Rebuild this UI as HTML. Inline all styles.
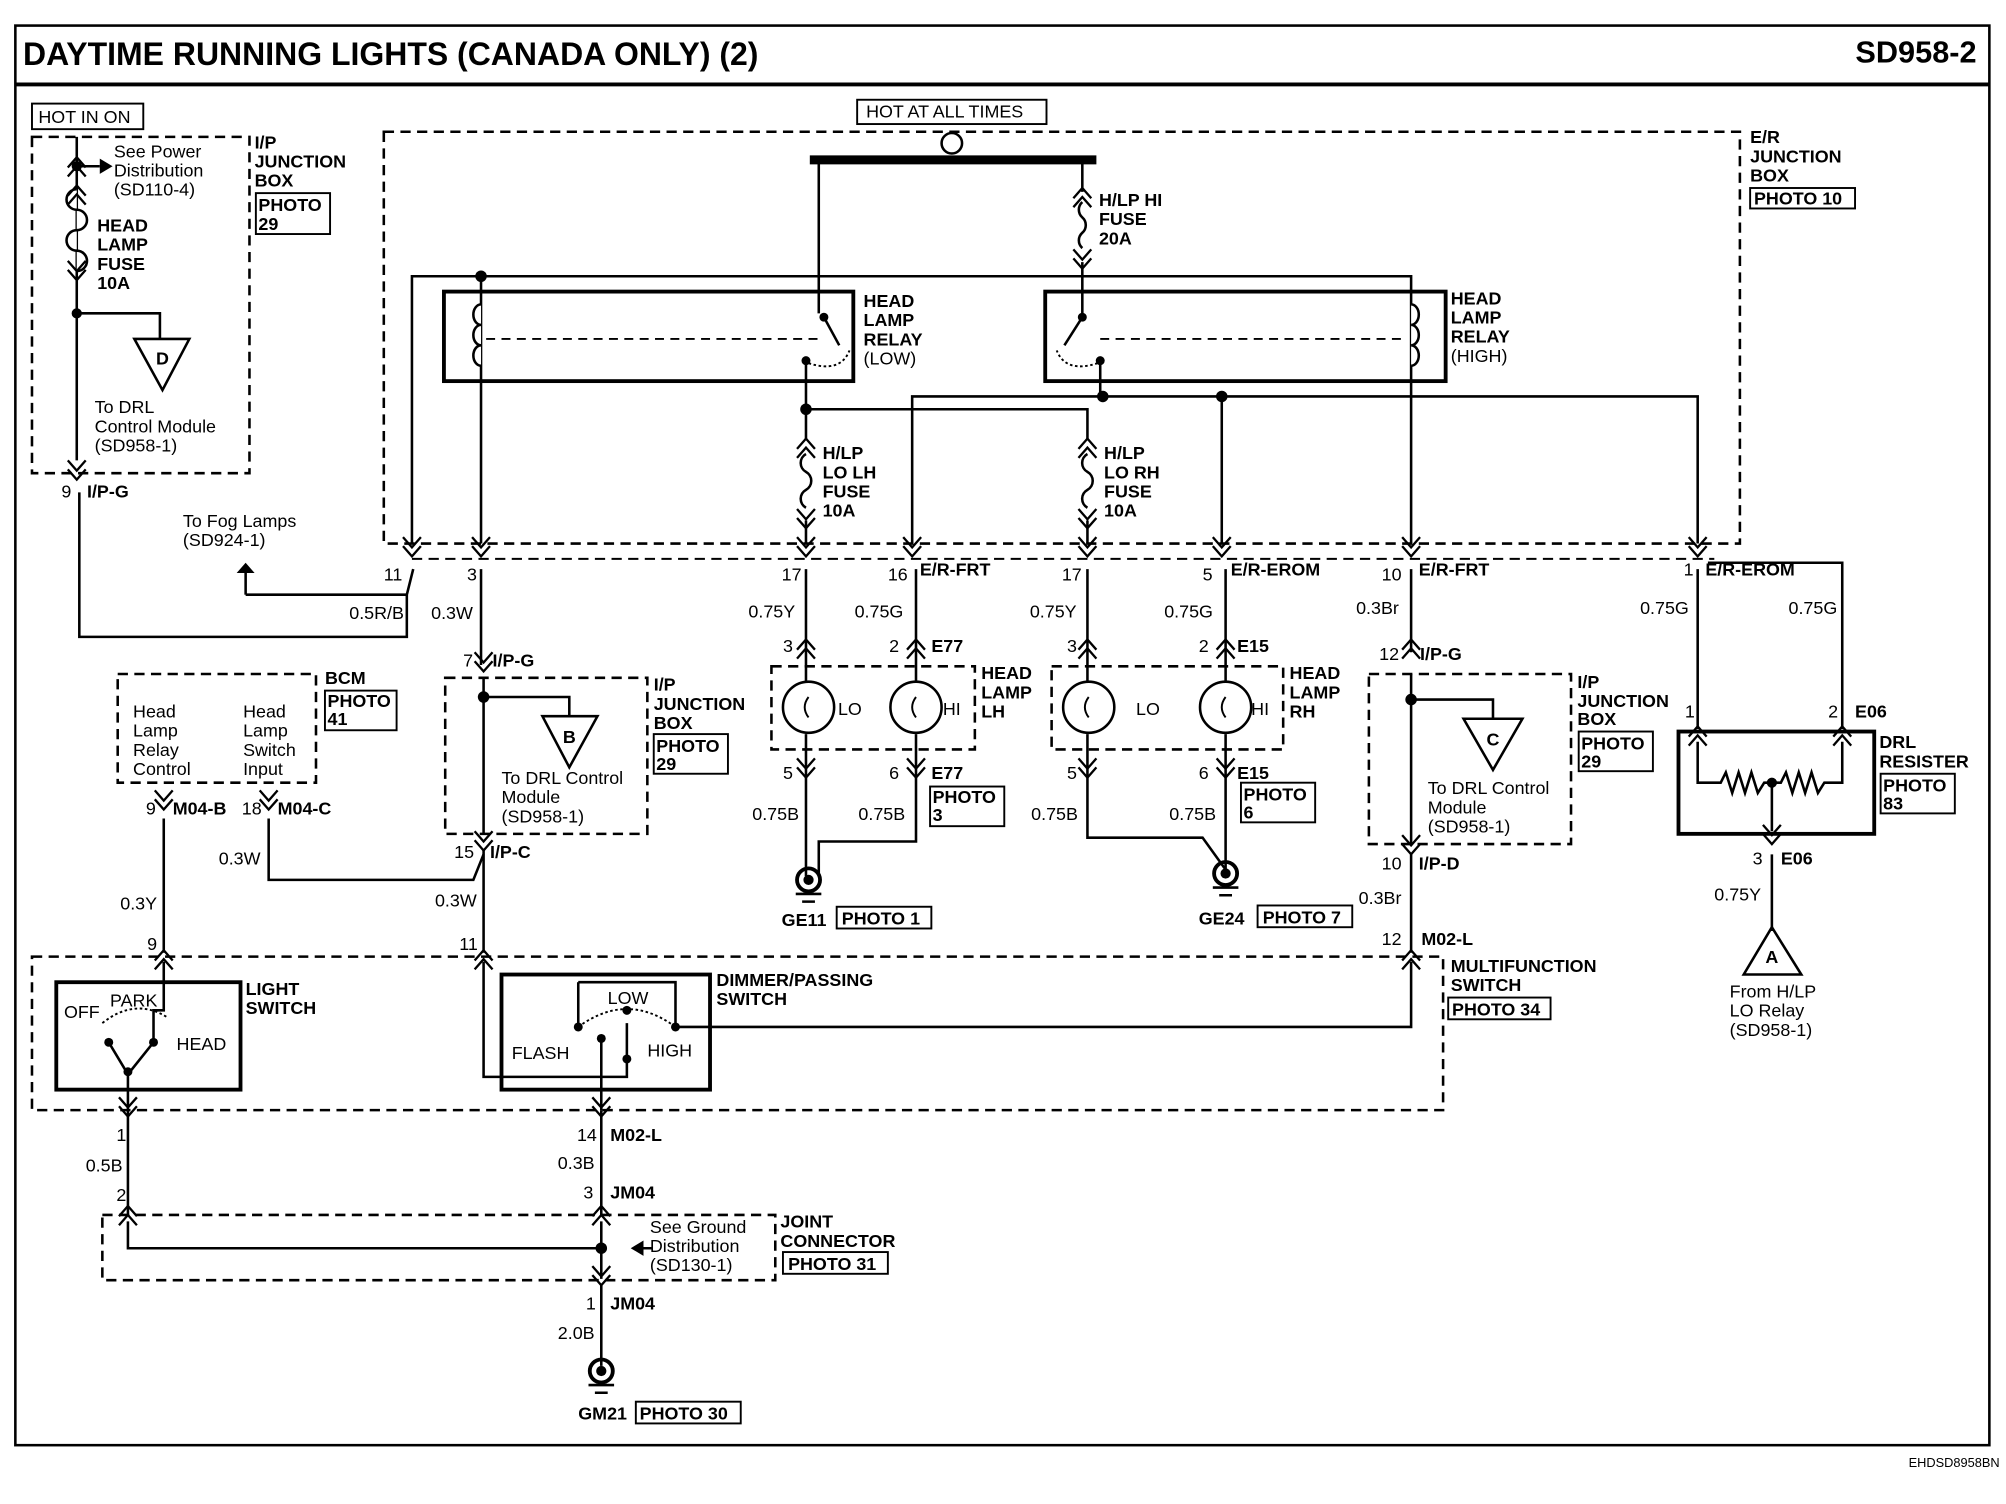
<!DOCTYPE html>
<html><head><meta charset="utf-8"><style>
html,body{margin:0;padding:0;background:#fff;}
svg{display:block;}
text{font-family:"Liberation Sans",Arial,sans-serif;fill:#000;}
.b{font-weight:bold;font-size:14px;}
.n{font-size:14px;}
</style></head><body>
<svg width="2006" height="1504" viewBox="0 0 1568 1176" preserveAspectRatio="none" xmlns="http://www.w3.org/2000/svg">
<defs>
<g id="cd"><path d="M-7,-10 L0,-2 L7,-10 M-7,-3 L0,5 L7,-3" fill="none" stroke="#000" stroke-width="1.8"/></g>
<g id="cu"><path d="M-7,10 L0,2 L7,10 M-7,3 L0,-5 L7,3" fill="none" stroke="#000" stroke-width="1.8"/></g>
</defs>
<g fill="none" stroke="#000">
<rect x="12" y="20" width="1543" height="1110" stroke-width="2"/>
<line x1="12" y1="66" x2="1555" y2="66" stroke-width="3"/>
</g>
<text x="18" y="51" style="font-weight:bold;font-size:25px">DAYTIME RUNNING LIGHTS (CANADA ONLY) (2)</text>
<text x="1545" y="49" text-anchor="end" style="font-weight:bold;font-size:24px">SD958-2</text>
<text x="1563" y="1147" text-anchor="end" style="font-size:10px">EHDSD8958BN</text>

<g fill="none" stroke="#000" stroke-width="2">
<g stroke-dasharray="8,5">
<rect x="25" y="107" width="170" height="263"/>
<rect x="300" y="103" width="1060" height="322"/>
<line x1="322" y1="437" x2="1340" y2="437" stroke-width="1.5"/>
<rect x="348" y="530" width="158" height="122"/>
<rect x="92" y="527" width="155" height="85"/>
<rect x="603" y="521" width="159" height="65"/>
<rect x="822" y="521" width="181" height="65"/>
<rect x="1070" y="527" width="158" height="133"/>
<rect x="25" y="748" width="1103" height="120"/>
<rect x="80" y="950" width="526" height="51"/>
</g>
<rect x="25" y="81" width="87" height="20" stroke-width="1.5"/>
<rect x="200" y="151" width="58" height="32" stroke-width="1.5"/>
<rect x="670" y="78" width="148" height="19" stroke-width="1.5"/>
<rect x="1368" y="147" width="82" height="16" stroke-width="1.5"/>
<rect x="254" y="540" width="56" height="31" stroke-width="1.5"/>
<rect x="511" y="574" width="58" height="31" stroke-width="1.5"/>
<rect x="727" y="615" width="58" height="31" stroke-width="1.5"/>
<rect x="970" y="612" width="58" height="31" stroke-width="1.5"/>
<rect x="1234" y="572" width="58" height="31" stroke-width="1.5"/>
<rect x="1470" y="605" width="58" height="31" stroke-width="1.5"/>
<rect x="654" y="709" width="74" height="17" stroke-width="1.5"/>
<rect x="983" y="708" width="74" height="17" stroke-width="1.5"/>
<rect x="1132" y="780" width="80" height="17" stroke-width="1.5"/>
<rect x="612" y="979" width="82" height="17" stroke-width="1.5"/>
<rect x="497" y="1096" width="82" height="17" stroke-width="1.5"/>

<path d="M60,107 V360"/>
<path d="M60,130 H78"/>
<path d="M60,245 H125 V265"/>
<path d="M62,385 V498 H318 V465 L323,445"/>
<path d="M192,465 H318"/>
<path d="M60,148 a8,8 0 0 0 0,16 a8,8 0 0 1 0,16 a8,8 0 0 0 0,16 a8,8 0 0 1 0,16" fill="#fff"/>

<line x1="633" y1="125" x2="857" y2="125" stroke-width="7"/>
<circle cx="744" cy="112" r="8" fill="#fff"/>
<path d="M640,125 V245"/>
<path d="M846,125 V150 M846,205 V245"/>
<path d="M846,158 a8,8 0 0 0 0,12 a8,8 0 0 1 0,12 a8,8 0 0 0 0,12" fill="#fff"/>

<rect x="347" y="228" width="320" height="70" stroke-width="3"/>
<rect x="817" y="228" width="313" height="70" stroke-width="3"/>
<path d="M322,425 V216 H1103 V425"/>
<path d="M376,216 V425"/>
<path d="M376,238 a6,8 0 0 0 0,16 a6,8 0 0 0 0,16 a6,8 0 0 0 0,16" fill="#fff"/>
<path d="M1103,238 a6,8 0 0 1 0,16 a6,8 0 0 1 0,16 a6,8 0 0 1 0,16" fill="#fff"/>
<path d="M380,265 H640 M860,265 H1098" stroke-dasharray="7,5" stroke-width="1.5"/>
<path d="M644,248 L656,270"/>
<path d="M630,282 V320"/>
<path d="M632,284 q25,8 32,-10" stroke-dasharray="2,2" stroke-width="1.5"/>
<path d="M846,248 L832,270"/>
<path d="M860,282 V310"/>
<path d="M858,284 q-25,8 -32,-10" stroke-dasharray="2,2" stroke-width="1.5"/>

<path d="M630,320 V343 M630,407 V425"/>
<path d="M630,355 a8,8 0 0 0 0,14 a8,8 0 0 1 0,14 a8,8 0 0 0 0,14" fill="#fff"/>
<path d="M630,320 H850 V343 M850,407 V425"/>
<path d="M850,355 a8,8 0 0 0 0,14 a8,8 0 0 1 0,14 a8,8 0 0 0 0,14" fill="#fff"/>
<path d="M713,425 V310 H1327 V425"/>
<path d="M955,310 V425"/>

<path d="M376,445 V520"/>
<path d="M378,530 V652"/>
<path d="M378,545 H445 V560"/>
<path d="M378,665 V745"/>
<path d="M210,640 V688 H370 L378,668"/>
<path d="M128,640 V745"/>
<path d="M630,445 V533 M630,574 V685"/>
<path d="M716,445 V533 M716,574 V658 H640 V685"/>
<path d="M850,445 V533 M850,574 V655 H940 L958,680"/>
<path d="M958,445 V533 M958,574 V680"/>
<path d="M1103,445 V510 M1103,527 V660 M1103,668 V745"/>
<path d="M1103,547 H1167 V562"/>
<path d="M1327,445 V570"/>
<path d="M1335,440 H1440 V570"/>
<circle cx="632" cy="553" r="20"/><circle cx="716" cy="553" r="20"/>
<circle cx="851" cy="553" r="20"/><circle cx="958" cy="553" r="20"/>
<path d="M632,545 q-6,8 0,16 M716,545 q-6,8 0,16 M851,545 q-6,8 0,16 M958,545 q-6,8 0,16" stroke-width="1.5"/>

<rect x="1312" y="572" width="153" height="80" stroke-width="3"/>
<path d="M1327,580 V612 H1345 l4,-8 l5,16 l5,-16 l5,16 l5,-16 l5,16 l5,-8 H1392 l4,-8 l5,16 l5,-16 l5,16 l5,-16 l5,16 l5,-8 H1440 V580"/>
<path d="M1385,612 V650 M1385,668 V728"/>
<path d="M1385,725 L1363,762 H1408 Z"/>

<path d="M105,265 H148 L127,305 Z"/>
<path d="M424,560 H467 L445,600 Z"/>
<path d="M1144,562 H1190 L1167,602 Z"/>

<rect x="44" y="768" width="144" height="84" stroke-width="3"/>
<rect x="392" y="762" width="163" height="90" stroke-width="3"/>
<path d="M128,752 V790 H120 V812"/>
<path d="M100,868 V840 L85,815"/>
<path d="M100,840 L120,815"/>
<path d="M80,800 q25,-20 50,-5" stroke-dasharray="2,2" stroke-width="1.5"/>
<path d="M378,752 V842 H490 V800"/>
<path d="M452,768 H528 V803"/>
<path d="M452,768 V803"/>
<path d="M452,803 q38,-28 76,0" stroke-dasharray="2,2" stroke-width="1.5"/>
<path d="M470,810 V868"/>
<path d="M528,803 H1103 V752"/>
<path d="M470,868 V950 M100,868 V950"/>
<path d="M100,955 V976 H470 M470,955 V1000 M470,1005 V1068"/>
<path d="M495,976 H510"/>
<circle cx="470" cy="1072" r="9" stroke-width="3"/>
<path d="M460,1083 H480 M465,1089 H475"/>
<circle cx="632" cy="688" r="9" stroke-width="3"/>
<path d="M622,699 H642 M627,705 H637"/>
<circle cx="958" cy="683" r="9" stroke-width="3"/>
<path d="M948,694 H968 M953,700 H963"/>
<path d="M192,465 V448"/>
</g>
<g fill="#000">
<circle cx="60" cy="130" r="4"/><circle cx="60" cy="245" r="4"/>
<path d="M78,124 L88,130 L78,136 Z"/>
<path d="M185,448 L192,440 L199,448 Z"/>
<path d="M503,970 L493,976 L503,982 Z"/>
<circle cx="376" cy="216" r="4.5"/><circle cx="644" cy="248" r="3.5"/><circle cx="630" cy="282" r="3.5"/>
<circle cx="846" cy="248" r="3.5"/><circle cx="860" cy="282" r="3.5"/>
<circle cx="630" cy="320" r="4.5"/><circle cx="862" cy="310" r="4.5"/><circle cx="955" cy="310" r="4.5"/>
<circle cx="378" cy="545" r="4.5"/><circle cx="1103" cy="547" r="4.5"/><circle cx="1385" cy="612" r="4"/>
<circle cx="470" cy="976" r="4.5"/>
<circle cx="470" cy="1072" r="4"/><circle cx="632" cy="688" r="4"/><circle cx="958" cy="683" r="4"/>
<circle cx="120" cy="815" r="3.5"/><circle cx="85" cy="815" r="3.5"/><circle cx="100" cy="838" r="3.5"/>
<circle cx="452" cy="803" r="3.5"/><circle cx="490" cy="790" r="3.5"/><circle cx="528" cy="803" r="3.5"/><circle cx="470" cy="812" r="3.5"/><circle cx="490" cy="828" r="3.5"/>
</g>
<use href="#cd" x="60" y="370"/><use href="#cu" x="60" y="128"/><use href="#cu" x="60" y="150"/><use href="#cd" x="60" y="214"/>
<use href="#cd" x="322" y="430"/><use href="#cd" x="376" y="430"/><use href="#cd" x="630" y="430"/><use href="#cd" x="713" y="430"/>
<use href="#cd" x="850" y="430"/><use href="#cd" x="955" y="430"/><use href="#cd" x="1103" y="430"/><use href="#cd" x="1327" y="430"/>
<use href="#cu" x="630" y="348"/><use href="#cd" x="630" y="408"/><use href="#cu" x="850" y="348"/><use href="#cd" x="850" y="408"/><use href="#cu" x="846" y="152"/><use href="#cd" x="846" y="205"/>
<use href="#cd" x="378" y="520"/><use href="#cd" x="378" y="660"/><use href="#cd" x="128" y="628"/><use href="#cd" x="210" y="628"/>
<use href="#cu" x="630" y="505"/><use href="#cu" x="716" y="505"/><use href="#cu" x="850" y="505"/><use href="#cu" x="958" y="505"/>
<use href="#cd" x="630" y="603"/><use href="#cd" x="716" y="603"/><use href="#cd" x="850" y="603"/><use href="#cd" x="958" y="603"/>
<use href="#cu" x="1103" y="505"/><use href="#cd" x="1103" y="663"/><use href="#cu" x="1327" y="573"/><use href="#cu" x="1440" y="573"/><use href="#cd" x="1385" y="655"/>
<use href="#cu" x="128" y="748"/><use href="#cu" x="378" y="748"/><use href="#cu" x="1103" y="748"/><use href="#cd" x="100" y="868"/><use href="#cd" x="470" y="868"/>
<use href="#cu" x="100" y="948"/><use href="#cu" x="470" y="948"/><use href="#cd" x="470" y="1000"/>

<g class="n">
<text x="30" y="96">HOT IN ON</text>
<text x="677" y="92">HOT AT ALL TIMES</text>
<text x="89" y="123">See Power</text><text x="89" y="138">Distribution</text><text x="89" y="153">(SD110-4)</text>
<text x="74" y="323">To DRL</text><text x="74" y="338">Control Module</text><text x="74" y="353">(SD958-1)</text>
<text x="143" y="412">To Fog Lamps</text><text x="143" y="427">(SD924-1)</text>
<text x="48" y="389">9</text>
<text x="300" y="454">11</text><text x="365" y="454">3</text><text x="611" y="454">17</text><text x="694" y="454">16</text>
<text x="830" y="454">17</text><text x="940" y="454">5</text><text x="1080" y="454">10</text><text x="1316" y="450">1</text>
<text x="273" y="484">0.5R/B</text><text x="337" y="484">0.3W</text>
<text x="585" y="483">0.75Y</text><text x="668" y="483">0.75G</text><text x="805" y="483">0.75Y</text><text x="910" y="483">0.75G</text>
<text x="1060" y="480">0.3Br</text><text x="1282" y="480">0.75G</text><text x="1398" y="480">0.75G</text>
<text x="612" y="510">3</text><text x="695" y="510">2</text><text x="834" y="510">3</text><text x="937" y="510">2</text>
<text x="362" y="521">7</text><text x="1078" y="516">12</text>
<text x="104" y="561">Head</text><text x="104" y="576">Lamp</text><text x="104" y="591">Relay</text><text x="104" y="606">Control</text>
<text x="190" y="561">Head</text><text x="190" y="576">Lamp</text><text x="190" y="591">Switch</text><text x="190" y="606">Input</text>
<text x="392" y="613">To DRL Control</text><text x="392" y="628">Module</text><text x="392" y="643">(SD958-1)</text>
<text x="1116" y="621">To DRL Control</text><text x="1116" y="636">Module</text><text x="1116" y="651">(SD958-1)</text>
<text x="655" y="559">LO</text><text x="737" y="559">HI</text><text x="888" y="559">LO</text><text x="978" y="559">HI</text>
<text x="1317" y="561">1</text><text x="1429" y="561">2</text>
<text x="612" y="609">5</text><text x="695" y="609">6</text><text x="834" y="609">5</text><text x="937" y="609">6</text>
<text x="114" y="637">9</text><text x="189" y="637">18</text>
<text x="588" y="641">0.75B</text><text x="671" y="641">0.75B</text><text x="806" y="641">0.75B</text><text x="914" y="641">0.75B</text>
<text x="355" y="671">15</text><text x="1080" y="680">10</text><text x="1370" y="676">3</text>
<text x="171" y="676">0.3W</text><text x="94" y="711">0.3Y</text><text x="340" y="709">0.3W</text><text x="1062" y="707">0.3Br</text><text x="1340" y="704">0.75Y</text>
<text x="115" y="743">9</text><text x="359" y="743">11</text><text x="1080" y="739">12</text>
<text x="1352" y="780">From H/LP</text><text x="1352" y="795">LO Relay</text><text x="1352" y="810">(SD958-1)</text>
<text x="50" y="796">OFF</text><text x="86" y="787">PARK</text><text x="138" y="821">HEAD</text>
<text x="475" y="785">LOW</text><text x="400" y="828">FLASH</text><text x="506" y="826">HIGH</text>
<text x="91" y="892">1</text><text x="451" y="892">14</text>
<text x="67" y="916">0.5B</text><text x="436" y="914">0.3B</text>
<text x="91" y="939">2</text><text x="456" y="937">3</text>
<text x="508" y="964">See Ground</text><text x="508" y="979">Distribution</text><text x="508" y="994">(SD130-1)</text>
<text x="458" y="1024">1</text><text x="436" y="1047">2.0B</text>
</g>
<g class="b">
<text x="199" y="116">I/P</text><text x="199" y="131">JUNCTION</text><text x="199" y="146">BOX</text>
<text x="202" y="165">PHOTO</text><text x="202" y="180">29</text>
<text x="76" y="181">HEAD</text><text x="76" y="196">LAMP</text><text x="76" y="211">FUSE</text><text x="76" y="226">10A</text>
<text x="127" y="285" text-anchor="middle">D</text>
<text x="68" y="389">I/P-G</text>
<text x="1368" y="112">E/R</text><text x="1368" y="127">JUNCTION</text><text x="1368" y="142">BOX</text><text x="1371" y="160">PHOTO 10</text>
<text x="859" y="161">H/LP HI</text><text x="859" y="176">FUSE</text><text x="859" y="191">20A</text>
<text x="675" y="240">HEAD</text><text x="675" y="255">LAMP</text><text x="675" y="270">RELAY</text><text x="675" y="285" style="font-weight:normal">(LOW)</text>
<text x="1134" y="238">HEAD</text><text x="1134" y="253">LAMP</text><text x="1134" y="268">RELAY</text><text x="1134" y="283" style="font-weight:normal">(HIGH)</text>
<text x="643" y="359">H/LP</text><text x="643" y="374">LO LH</text><text x="643" y="389">FUSE</text><text x="643" y="404">10A</text>
<text x="863" y="359">H/LP</text><text x="863" y="374">LO RH</text><text x="863" y="389">FUSE</text><text x="863" y="404">10A</text>
<text x="719" y="450">E/R-FRT</text><text x="962" y="450">E/R-EROM</text><text x="1109" y="450">E/R-FRT</text><text x="1333" y="450">E/R-EROM</text>
<text x="728" y="510">E77</text><text x="967" y="510">E15</text>
<text x="385" y="521">I/P-G</text><text x="1110" y="516">I/P-G</text>
<text x="767" y="531">HEAD</text><text x="767" y="546">LAMP</text><text x="767" y="561">LH</text>
<text x="1008" y="531">HEAD</text><text x="1008" y="546">LAMP</text><text x="1008" y="561">RH</text>
<text x="254" y="535">BCM</text><text x="256" y="553">PHOTO</text><text x="256" y="567">41</text>
<text x="511" y="540">I/P</text><text x="511" y="555">JUNCTION</text><text x="511" y="570">BOX</text><text x="513" y="588">PHOTO</text><text x="513" y="602">29</text>
<text x="1233" y="538">I/P</text><text x="1233" y="553">JUNCTION</text><text x="1233" y="567">BOX</text><text x="1236" y="586">PHOTO</text><text x="1236" y="600">29</text>
<text x="1450" y="561">E06</text>
<text x="1469" y="585">DRL</text><text x="1469" y="600">RESISTER</text><text x="1472" y="619">PHOTO</text><text x="1472" y="633">83</text>
<text x="445" y="581" text-anchor="middle">B</text><text x="1167" y="583" text-anchor="middle">C</text><text x="1385" y="753" text-anchor="middle">A</text>
<text x="728" y="609">E77</text><text x="729" y="628">PHOTO</text><text x="729" y="642">3</text>
<text x="967" y="609">E15</text><text x="972" y="626">PHOTO</text><text x="972" y="640">6</text>
<text x="135" y="637">M04-B</text><text x="217" y="637">M04-C</text>
<text x="383" y="671">I/P-C</text><text x="1109" y="680">I/P-D</text><text x="1392" y="676">E06</text>
<text x="611" y="724">GE11</text><text x="658" y="723">PHOTO 1</text>
<text x="937" y="723">GE24</text><text x="987" y="722">PHOTO 7</text>
<text x="1111" y="739">M02-L</text>
<text x="1134" y="760">MULTIFUNCTION</text><text x="1134" y="775">SWITCH</text><text x="1135" y="794">PHOTO 34</text>
<text x="192" y="778">LIGHT</text><text x="192" y="793">SWITCH</text>
<text x="560" y="771">DIMMER/PASSING</text><text x="560" y="786">SWITCH</text>
<text x="477" y="892">M02-L</text><text x="477" y="937">JM04</text><text x="477" y="1024">JM04</text>
<text x="610" y="960">JOINT</text><text x="610" y="975">CONNECTOR</text><text x="616" y="993">PHOTO 31</text>
<text x="452" y="1110">GM21</text><text x="500" y="1110">PHOTO 30</text>
</g>
</svg>
</body></html>
